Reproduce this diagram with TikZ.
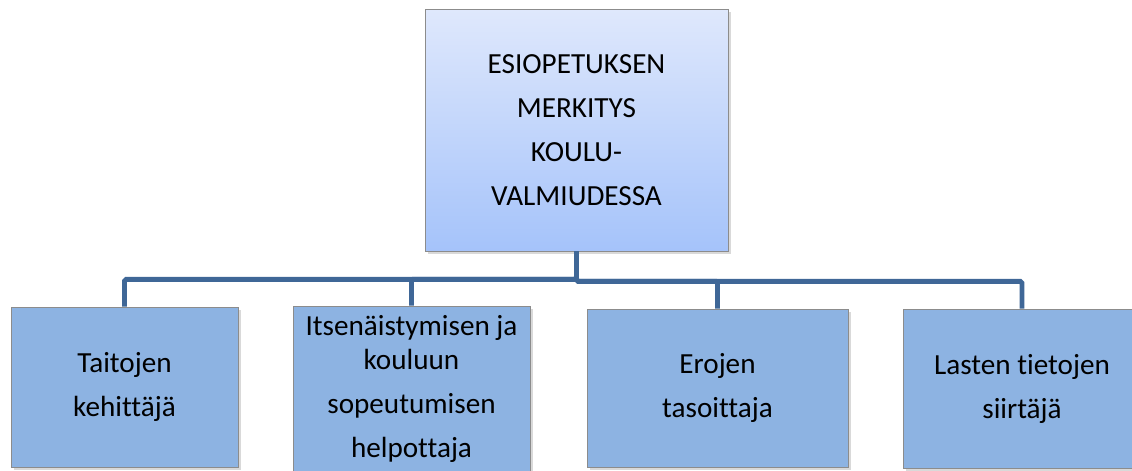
\documentclass[tikz,border=0pt]{standalone}
\usepackage{fontspec}
\setmainfont{Carlito}[Ligatures=NoCommon]
\usetikzlibrary{shadows}
\definecolor{esiLink}{HTML}{3F6797}
\definecolor{esiBox}{HTML}{8DB3E2}
\definecolor{esiTop}{HTML}{DFE8FC}
\definecolor{esiBottom}{HTML}{A5C3FA}

\begin{document}
\begin{tikzpicture}[
  esibox/.style = {draw=black!45, thin, align=center, inner sep=2pt,
    font=\fontsize{16.6}{25}\selectfont,
    drop shadow={opacity=0.3, shadow xshift=1.5pt, shadow yshift=-1.5pt}},
  esiroot/.style = {esibox, top color=esiTop, bottom color=esiBottom,
    minimum width=6.06cm, minimum height=4.84cm},
  esichild/.style = {esibox, fill=esiBox, minimum height=3.2cm},
  esilink/.style = {line width=2.8pt, esiLink, rounded corners=1pt}
]
  \useasboundingbox (0,0) rectangle (22.64,9.4);
  % paalaatikko
  \node[esiroot] (root) at (11.53,6.80)
    {ESIOPETUKSEN\\MERKITYS\\KOULU-\\VALMIUDESSA};
  % alalaatikot
  \node[esichild, minimum width=4.54cm] (taidot) at (2.49,1.66)
    {Taitojen\\kehittäjä};
  \node[esichild, minimum width=4.74cm, minimum height=3.32cm] (itsen) at (8.23,1.62)
    {Itsenäistymisen ja\\[-6pt]kouluun\\sopeutumisen\\helpottaja};
  \node[esichild, minimum width=5.22cm, minimum height=3.16cm] (erot) at (14.35,1.64)
    {Erojen\\tasoittaja};
  \node[esichild, minimum width=4.76cm, minimum height=3.18cm] (tiedot) at (20.44,1.63)
    {Lasten tietojen\\siirtäjä};
  % yhdysviivat
  \draw[esilink] (root.south) -- ++(0,-0.56) -| (taidot.north);
  \draw[esilink] (root.south) -- ++(0,-0.56) -| (itsen.north);
  \draw[esilink] (root.south) -- ++(0,-0.60) -| (erot.north);
  \draw[esilink] (root.south) -- ++(0,-0.60) -| (tiedot.north);
\end{tikzpicture}
\end{document}
